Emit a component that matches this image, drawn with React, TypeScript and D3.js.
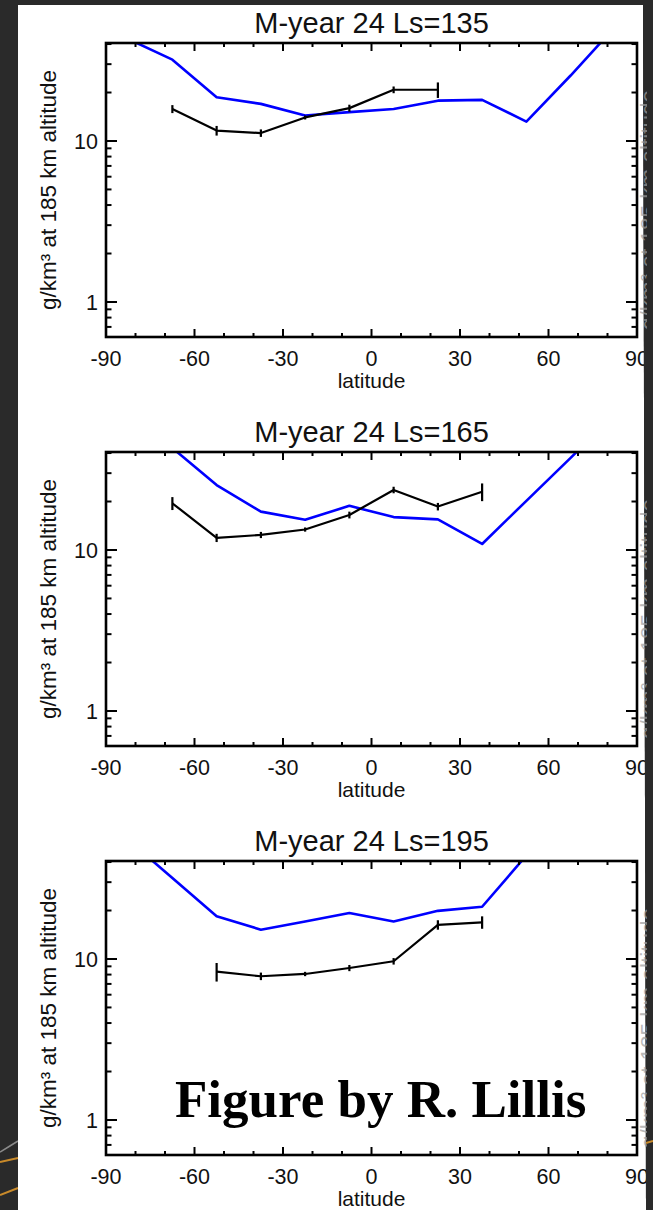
import React from 'react';
import * as d3 from 'd3';

// ---- data -------------------------------------------------------------
const panelTitles = ['M-year 24 Ls=135', 'M-year 24 Ls=165', 'M-year 24 Ls=195'];

// model latitude bins (blue curves)
const modelLat = [-82.5, -67.5, -52.5, -37.5, -22.5, -7.5, 7.5, 22.5, 37.5, 52.5, 67.5, 82.5];
const model135 = [43, 32, 18.7, 17.0, 14.4, 15.1, 15.8, 17.8, 18.0, 13.2, 25.5, 51];
const model165 = [70, 43, 25.3, 17.3, 15.4, 18.8, 16.0, 15.5, 10.9, 20.2, 37.3, 70];
const model195 = [55, 31.8, 18.4, 15.2, 17.1, 19.3, 17.1, 19.9, 21.1, 44, 80, 120];

// observed densities with errors (black curves)
const obsLat135 = [-67.5, -52.5, -37.5, -22.5, -7.5, 7.5, 22.5];
const obs135 = [15.8, 11.6, 11.2, 14.0, 16.0, 20.8, 20.8];
const err135 = [0.9, 0.8, 0.6, 0.4, 0.8, 1.0, 2.3];

const obsLat165 = [-67.5, -52.5, -37.5, -22.5, -7.5, 7.5, 22.5, 37.5];
const obs165 = [19.5, 11.9, 12.4, 13.4, 16.5, 23.6, 18.6, 23.0];
const err165 = [1.8, 0.7, 0.55, 0.4, 0.8, 1.1, 1.0, 2.9];

const obsLat195 = [-52.5, -37.5, -22.5, -7.5, 7.5, 22.5, 37.5];
const obs195 = [8.34, 7.81, 8.07, 8.79, 9.68, 16.3, 16.9];
const err195 = [1.1, 0.42, 0.25, 0.39, 0.45, 1.1, 1.5];

const xTickLabels = [-90, -60, -30, 0, 30, 60, 90];
const xMinorTicks = d3.range(-90, 91, 10);
const yTickLabels = [1, 10];
const yMinorTicks = [0.7, 0.8, 0.9, 2, 3, 4, 5, 6, 7, 8, 9, 20, 30, 40];
const yDomain: [number, number] = [0.606, 40.6];

const panels = [
  { title: panelTitles[0], mLat: modelLat, model: model135, oLat: obsLat135, obs: obs135, err: err135 },
  { title: panelTitles[1], mLat: modelLat, model: model165, oLat: obsLat165, obs: obs165, err: err165 },
  { title: panelTitles[2], mLat: modelLat, model: model195, oLat: obsLat195, obs: obs195, err: err195 },
];

// ---- layout -----------------------------------------------------------
const W = 653;
const H = 1210;
const PLOT_L = 106;
const PLOT_R = 637;
const PLOT_H = 294;
const PANEL_TOP0 = 43;
const PANEL_STEP = 409;
const SANS = '"Liberation Sans", Arial, Helvetica, sans-serif';
const INK = '#111';
const DARK = '#2a2a2a';

function Panel({ p, idx }: { p: typeof panels[number]; idx: number }) {
  const top = PANEL_TOP0 + idx * PANEL_STEP;
  const bottom = top + PLOT_H;
  const x = d3.scaleLinear().domain([-90, 90]).range([PLOT_L, PLOT_R]);
  const y = d3.scaleLog().domain(yDomain).range([bottom, top]);
  const line = d3
    .line<[number, number]>()
    .x((d) => x(d[0]))
    .y((d) => y(d[1]));
  const modelPts = p.mLat.map((la, i) => [la, p.model[i]] as [number, number]);
  const obsPts = p.oLat.map((la, i) => [la, p.obs[i]] as [number, number]);
  const clipId = `clip-${idx}`;
  const midY = (top + bottom) / 2;
  const midX = (PLOT_L + PLOT_R) / 2;

  return (
    <g>
      <defs>
        <clipPath id={clipId}>
          <rect x={PLOT_L} y={top} width={PLOT_R - PLOT_L} height={PLOT_H} />
        </clipPath>
      </defs>
      {/* title */}
      <text x={midX} y={top - 10} textAnchor="middle" fontFamily={SANS} fontSize={29} fill={INK}>
        {p.title}
      </text>

      {/* data */}
      <g clipPath={`url(#${clipId})`}>
        <path d={line(modelPts) || ''} fill="none" stroke="#0000ff" strokeWidth={2.6} strokeLinejoin="round" />
        <path d={line(obsPts) || ''} fill="none" stroke="#000" strokeWidth={2.2} strokeLinejoin="round" />
        {obsPts.map((d, i) => (
          <line
            key={i}
            x1={x(d[0])}
            x2={x(d[0])}
            y1={y(d[1] - p.err[i])}
            y2={y(d[1] + p.err[i])}
            stroke="#000"
            strokeWidth={2.2}
          />
        ))}
      </g>

      {/* x ticks, top and bottom, inward */}
      {xMinorTicks.map((t) => {
        const major = t % 30 === 0;
        const len = major ? 8 : 4;
        return (
          <g key={`xt${t}`} stroke="#000" strokeWidth={2}>
            <line x1={x(t)} x2={x(t)} y1={bottom} y2={bottom - len} />
            <line x1={x(t)} x2={x(t)} y1={top} y2={top + len} />
          </g>
        );
      })}
      {/* y ticks, left and right, inward */}
      {[...yTickLabels, ...yMinorTicks].map((t) => {
        const major = yTickLabels.includes(t);
        const len = major ? 11 : 5.5;
        return (
          <g key={`yt${t}`} stroke="#000" strokeWidth={2}>
            <line x1={PLOT_L} x2={PLOT_L + len} y1={y(t)} y2={y(t)} />
            <line x1={PLOT_R} x2={PLOT_R - len} y1={y(t)} y2={y(t)} />
          </g>
        );
      })}

      {/* frame */}
      <rect x={PLOT_L} y={top} width={PLOT_R - PLOT_L} height={PLOT_H} fill="none" stroke="#000" strokeWidth={2.6} />

      {/* tick labels */}
      {xTickLabels.map((t) => (
        <text key={`xl${t}`} x={x(t)} y={bottom + 29} textAnchor="middle" fontFamily={SANS} fontSize={21.5} fill={INK}>
          {t}
        </text>
      ))}
      {yTickLabels.map((t) => (
        <text key={`yl${t}`} x={98} y={y(t) + 8} textAnchor="end" fontFamily={SANS} fontSize={21.5} fill={INK}>
          {t}
        </text>
      ))}
      <text x={midX} y={bottom + 51} textAnchor="middle" fontFamily={SANS} fontSize={21} fill={INK}>
        latitude
      </text>
      <text
        transform={`translate(56,${midY}) rotate(-90)`}
        textAnchor="middle"
        fontFamily={SANS}
        fontSize={22.5}
        fill={INK}
      >
        g/km³ at 185 km altitude
      </text>
    </g>
  );
}

export default function App() {
  return (
    <svg
      width={W}
      height={H}
      viewBox={`0 0 ${W} ${H}`}
      style={{ position: 'absolute', left: 0, top: 0, display: 'block' }}
    >
      <defs>
        <clipPath id="edgeClip">
          <rect x={639} y={0} width={8} height={H} />
        </clipPath>
      </defs>
      <rect x={0} y={0} width={W} height={H} fill={DARK} />
      <path d="M0,1152 Q10,1146 18,1141" stroke="#8a8a8a" strokeWidth={1.5} fill="none" />
      <path d="M0,1162 L18,1158" stroke="#c98a2a" strokeWidth={2} fill="none" />
      <path d="M0,1195 L18,1188" stroke="#c98a2a" strokeWidth={2} fill="none" />
      <polygon points="18,5 643,5 646,1210 18,1210" fill="#fff" />

      {panels.map((p, i) => (
        <Panel key={i} p={p} idx={i} />
      ))}

      <text x={175} y={1117} fontFamily='"Liberation Serif", "Times New Roman", serif' fontWeight="bold" fontSize={53} fill="#000">
        Figure by R. Lillis
      </text>

      {/* page edge on the right covers overflowing labels */}
      <polygon points="643,0 653,0 653,1210 646,1210" fill={DARK} />
      <rect x={0} y={0} width={W} height={5} fill={DARK} />
      <path d="M646,1143 L653,1141" stroke="#c98a2a" strokeWidth={2} fill="none" />

      {/* faint axis labels of the next column, showing through at the page edge */}
      <g clipPath="url(#edgeClip)">
        {panels.map((_, i) => {
          const cy = PANEL_TOP0 + i * PANEL_STEP + PLOT_H / 2 + 20;
          return (
            <text
              key={`edge${i}`}
              transform={`translate(656,${cy}) rotate(-90)`}
              textAnchor="middle"
              fontFamily={SANS}
              fontSize={22.5}
              fill="#9c9c9c"
              opacity={0.7}
            >
              g/km³ at 185 km altitude
            </text>
          );
        })}
      </g>
    </svg>
  );
}
